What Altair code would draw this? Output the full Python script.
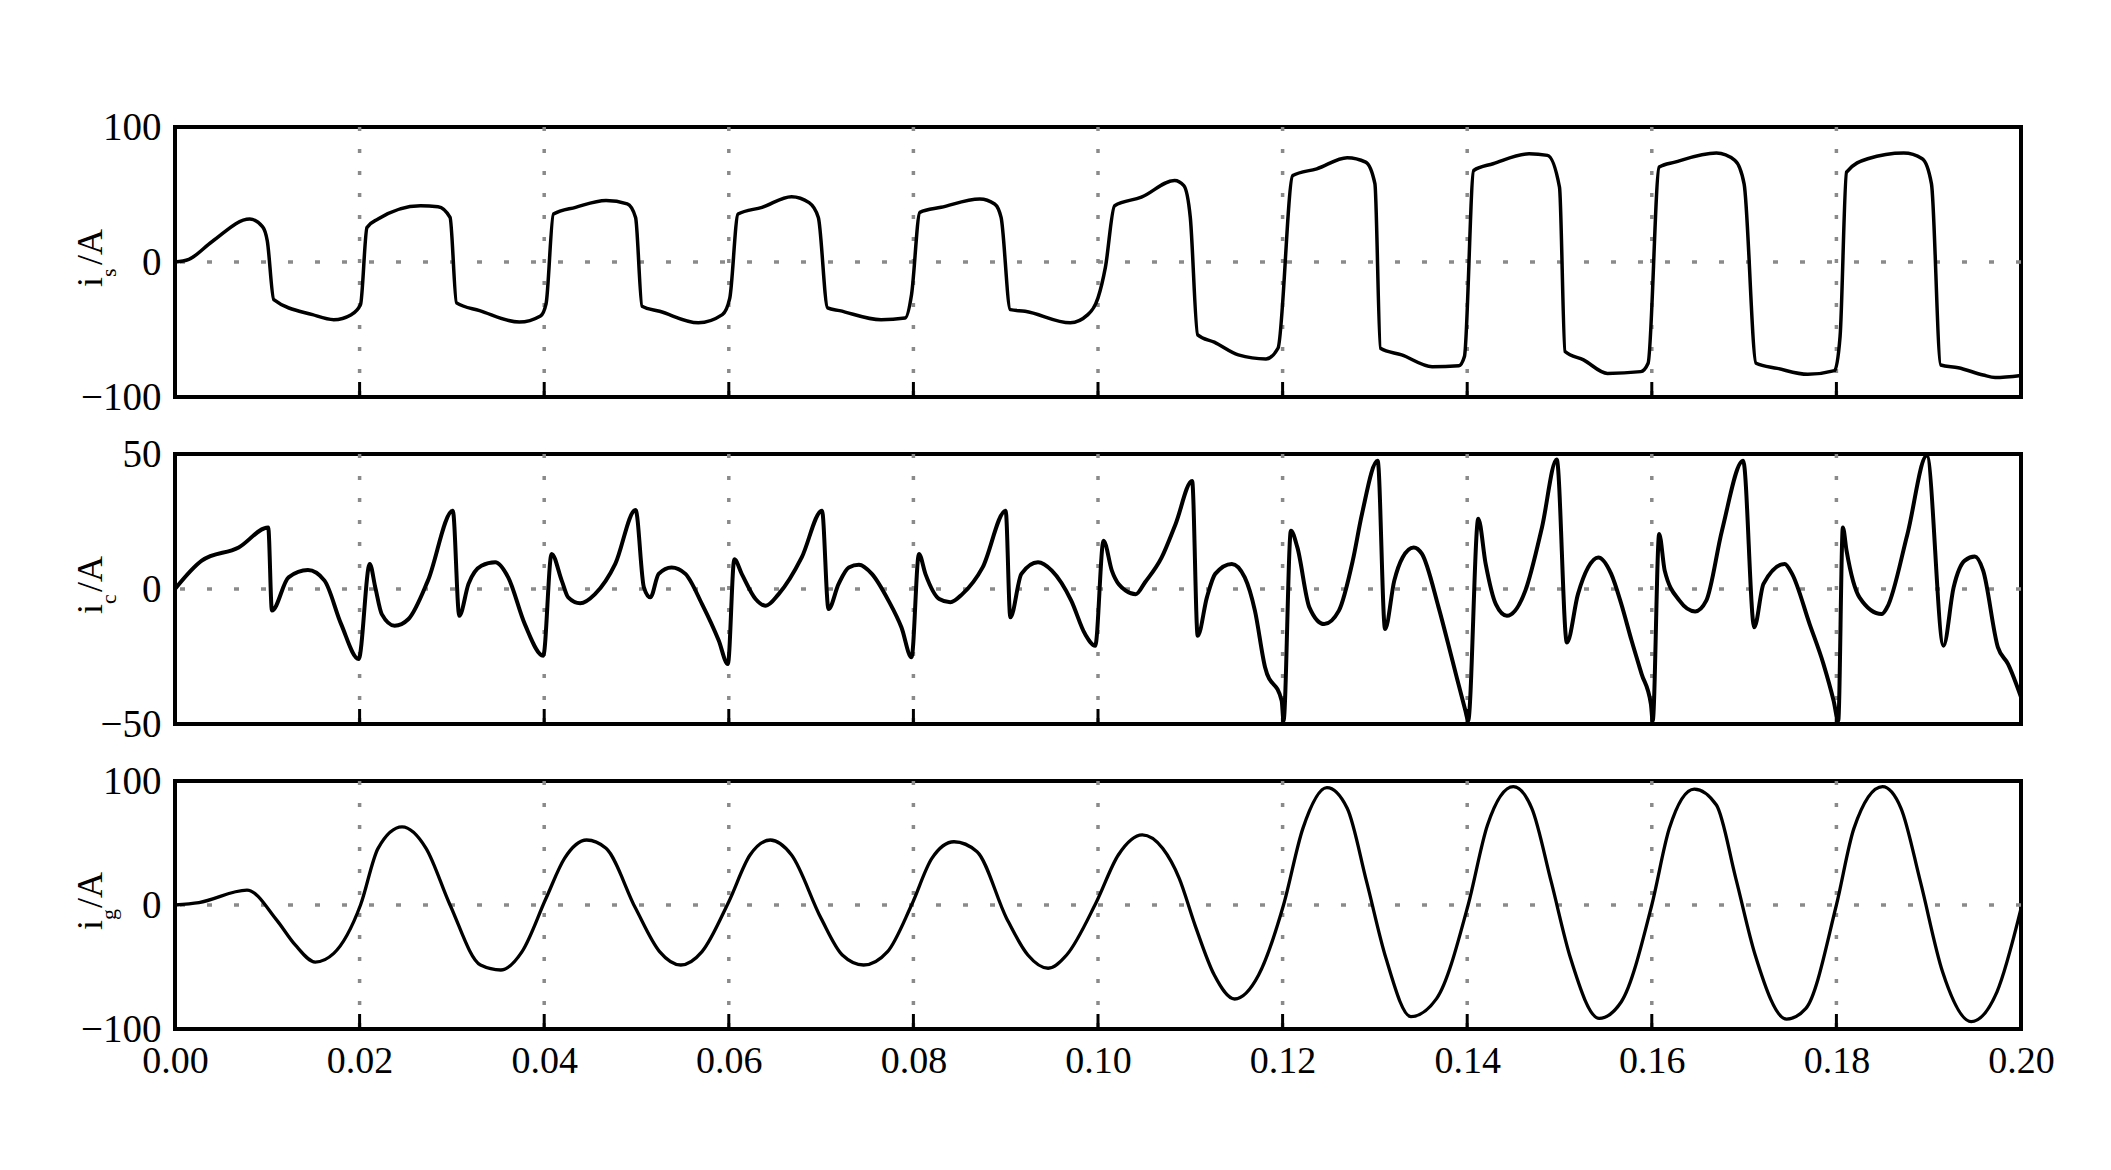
import altair as alt
import pandas as pd

# ---------------- data ----------------
t_s = [0.0000, 0.0015, 0.0040, 0.0081, 0.0095, 0.0100, 0.0107, 0.0149, 0.0172, 0.0191,
       0.0201, 0.0208, 0.0220, 0.0266, 0.0285, 0.0298, 0.0305, 0.0330, 0.0373, 0.0396,
       0.0402, 0.0410, 0.0434, 0.0467, 0.0490, 0.0499, 0.0506, 0.0525, 0.0567, 0.0593,
       0.0601, 0.0610, 0.0636, 0.0668, 0.0687, 0.0697, 0.0707, 0.0720, 0.0765, 0.0791,
       0.0798, 0.0807, 0.0830, 0.0872, 0.0888, 0.0895, 0.0905, 0.0921, 0.0970, 0.0989,
       0.1000, 0.1008, 0.1018, 0.1047, 0.1083, 0.1093, 0.1100, 0.1108, 0.1126, 0.1152,
       0.1182, 0.1195, 0.1211, 0.1237, 0.1270, 0.1290, 0.1300, 0.1306, 0.1329, 0.1362,
       0.1391, 0.1397, 0.1407, 0.1428, 0.1467, 0.1487, 0.1500, 0.1506, 0.1526, 0.1552,
       0.1588, 0.1596, 0.1608, 0.1625, 0.1670, 0.1690, 0.1700, 0.1713, 0.1736, 0.1769,
       0.1798, 0.1804, 0.1811, 0.1834, 0.1873, 0.1893, 0.1903, 0.1913, 0.1932, 0.1959,
       0.1972, 0.2000]
i_s = [0, 2, 15, 31.8, 26, 15.6, -27.8, -39, -42.7, -39,
       -31.5, 25.6, 31.8, 41.7, 41, 33, -30.3, -36, -44.5, -40,
       -31, 35.5, 40.5, 45.5, 43, 33, -32.8, -36.5, -45, -39,
       -27, 35.5, 40.5, 48.4, 44, 33, -34, -36, -42.7, -41.5,
       -24, 36.8, 40.5, 46.7, 43, 33, -35.3, -36.5, -45, -39,
       -26.6, -4, 41.7, 48, 60.4, 56.6, 33, -54, -59.4, -68.8,
       -71.8, -63.9, 64.1, 69, 77.3, 74, 58, -63.9, -68.8, -77.5,
       -76.8, -70, 67.8, 72.8, 80.2, 79, 55.4, -66.3, -72.5, -82.5,
       -81.2, -75, 70.3, 74, 80.7, 75.3, 57.9, -75, -78.8, -83.2,
       -80.5, -55, 66.6, 76.5, 80.7, 76.5, 57.9, -76.3, -78.3, -83.7,
       -85.5, -84]

t_c = [0.0000, 0.0029, 0.0069, 0.0101, 0.0105, 0.0123, 0.0144, 0.0162, 0.0180, 0.0199,
       0.0211, 0.0217, 0.0224, 0.0238, 0.0253, 0.0274, 0.0301, 0.0308, 0.0318, 0.0332,
       0.0347, 0.0361, 0.0379, 0.0399, 0.0408, 0.0419, 0.0426, 0.0439, 0.0455, 0.0477,
       0.0499, 0.0508, 0.0515, 0.0524, 0.0538, 0.0553, 0.0571, 0.0589, 0.0599, 0.0606,
       0.0614, 0.0629, 0.0640, 0.0654, 0.0679, 0.0701, 0.0708, 0.0719, 0.0730, 0.0741,
       0.0755, 0.0773, 0.0787, 0.0798, 0.0806, 0.0813, 0.0828, 0.0840, 0.0853, 0.0875,
       0.0900, 0.0905, 0.0917, 0.0935, 0.0950, 0.0971, 0.0986, 0.0997, 0.1006, 0.1015,
       0.1030, 0.1041, 0.1051, 0.1069, 0.1084, 0.1102, 0.1108, 0.1118, 0.1127, 0.1145,
       0.1159, 0.1170, 0.1181, 0.1199, 0.1201, 0.1209, 0.1216, 0.1229, 0.1245, 0.1261,
       0.1276, 0.1286, 0.1303, 0.1311, 0.1321, 0.1330, 0.1342, 0.1351, 0.1369, 0.1384,
       0.1398, 0.1401, 0.1412, 0.1420, 0.1431, 0.1443, 0.1463, 0.1481, 0.1497, 0.1508,
       0.1520, 0.1531, 0.1542, 0.1556, 0.1567, 0.1578, 0.1589, 0.1599, 0.1601, 0.1608,
       0.1614, 0.1630, 0.1647, 0.1659, 0.1676, 0.1699, 0.1711, 0.1721, 0.1744, 0.1752,
       0.1771, 0.1786, 0.1797, 0.1802, 0.1807, 0.1811, 0.1825, 0.1849, 0.1855, 0.1877,
       0.1898, 0.1916, 0.1927, 0.1939, 0.1950, 0.1959, 0.1975, 0.1986, 0.2000]
i_c = [0, 10.5, 15.4, 22.8, -8, 4.3, 7, 3.1, -13, -25.9,
       9.3, 0.6, -9.3, -13.6, -11.1, 3.1, 29, -9.9, 1.9, 8.6,
       9.9, 4.3, -13, -24.7, 13, 3.1, -3.1, -5.3, -1.9, 9.3,
       29.3, 0.6, -3.1, 5.6, 8, 5.6, -5.6, -19, -27.8, 11,
       5.6, -3.7, -6.2, -1.9, 11.7, 29, -7.4, 1.9, 8, 9,
       5.6, -4.3, -14.2, -25.3, 13, 5.6, -3.7, -4.9, -1.9, 8,
       29, -10.5, 5.6, 9.9, 6.8, -4.3, -16.7, -21, 17.9, 6.8,
       -0.6, -1.9, 2.5, 11.7, 24, 40, -17.3, -3.1, 5.6, 9.3,
       4.3, -8, -29, -41.4, -48.8, 21.6, 15.4, -6.8, -13, -8,
       10.5, 27.8, 47.5, -14.8, 3.1, 11.7, 15.4, 13, -6.8, -26.5,
       -45, -48.8, 26, 9.3, -5.6, -9.9, -0.6, 22.8, 48, -19.8,
       -1.9, 8, 11.7, 5.6, -5.6, -19, -31.5, -42.6, -48.8, 20.4,
       6.8, -4.3, -8.3, -4.3, 21.6, 47.5, -14.2, 1.9, 9.3, 5.6,
       -13, -27.8, -41.4, -48.8, 22.8, 14.2, -3.1, -9.3, -6.8, 20.4,
       49.4, -21, 0.6, 10.5, 12, 6.8, -21.6, -27.8, -40]

t_g = [0.0000, 0.0026, 0.0078, 0.0110, 0.0130, 0.0152, 0.0172, 0.0201, 0.0220, 0.0246,
       0.0272, 0.0298, 0.0331, 0.0353, 0.0376, 0.0402, 0.0422, 0.0446, 0.0467, 0.0499,
       0.0525, 0.0548, 0.0571, 0.0600, 0.0623, 0.0645, 0.0668, 0.0700, 0.0723, 0.0746,
       0.0772, 0.0798, 0.0820, 0.0844, 0.0869, 0.0901, 0.0924, 0.0946, 0.0966, 0.0998,
       0.1022, 0.1048, 0.1070, 0.1088, 0.1105, 0.1126, 0.1148, 0.1174, 0.1201, 0.1222,
       0.1248, 0.1270, 0.1291, 0.1312, 0.1339, 0.1367, 0.1401, 0.1422, 0.1450, 0.1470,
       0.1491, 0.1512, 0.1543, 0.1567, 0.1600, 0.1619, 0.1646, 0.1670, 0.1691, 0.1712,
       0.1746, 0.1767, 0.1800, 0.1819, 0.1850, 0.1870, 0.1891, 0.1915, 0.1946, 0.1974,
       0.2000]
i_g = [0, 2, 12, -12, -32, -46, -39, 0, 45.7, 63,
       45.7, 0, -48.4, -52.4, -37.6, 5.4, 37.6, 52.4, 45.7, -2.7,
       -37.6, -48.4, -37.6, 2.7, 40.3, 52.4, 40.3, -10.8, -40.3, -48.4,
       -37.6, 0, 37.6, 51, 43, -10.8, -40.3, -51, -40.3, 2,
       40.3, 56.5, 45.7, 21.5, -16, -56.5, -75.8, -56.5, 0, 61.8,
       94.6, 78, 18.8, -43, -90, -75.3, 0, 64.5, 95.4, 78,
       18.8, -43, -91.4, -78, 0, 61.8, 93.5, 80.6, 21.5, -40.3,
       -92, -83.3, 0, 61.8, 95.4, 78, 18.8, -53.8, -94, -70,
       -3]

x_ticks = [0.00, 0.02, 0.04, 0.06, 0.08, 0.10, 0.12, 0.14, 0.16, 0.18, 0.20]
grid_x = [0.02, 0.04, 0.06, 0.08, 0.10, 0.12, 0.14, 0.16, 0.18]

# ---------------- styling ----------------
FONT = "Liberation Serif"
W = 1846
GRID = "#8a8a8a"


def panel(t, v, domain, yvals, sub, height, show_x, stroke_w, interp, spacer=False):
    xscale = alt.Scale(domain=[0, 0.2], nice=False, zero=False)
    yscale = alt.Scale(domain=domain, nice=False, zero=False)
    if show_x:
        xaxis = alt.Axis(values=x_ticks, format=".2f", ticks=False, domain=False, grid=False,
                         labelFont=FONT, labelFontSize=38, labelColor="black",
                         labelPadding=13, labelFlush=False, title=None)
    else:
        xaxis = None
    yaxis = alt.Axis(values=yvals, ticks=False, domain=False, grid=False,
                     labelFont=FONT, labelFontSize=39, labelColor="black",
                     labelPadding=14, title=None)

    df = pd.DataFrame({"t": t, "v": v})
    gdf = pd.DataFrame({"gx": grid_x})
    zdf = pd.DataFrame({"gy": [0]})
    one = pd.DataFrame({"k": [0]})

    line = alt.Chart(df).mark_line(color="black", strokeWidth=stroke_w, interpolate=interp).encode(
        x=alt.X("t:Q", scale=xscale, axis=xaxis),
        y=alt.Y("v:Q", scale=yscale, axis=yaxis))
    vgrid = alt.Chart(gdf).mark_rule(color=GRID, strokeWidth=3.5, strokeDash=[4, 18]).encode(
        x=alt.X("gx:Q", scale=xscale, axis=xaxis))
    hgrid = alt.Chart(zdf).mark_rule(color=GRID, strokeWidth=3.5, strokeDash=[5, 22]).encode(
        y=alt.Y("gy:Q", scale=yscale, axis=yaxis))
    ticks = alt.Chart(gdf).mark_rule(color="black", strokeWidth=3).encode(
        x=alt.X("gx:Q", scale=xscale, axis=xaxis),
        y=alt.value(height), y2=alt.value(height - 15))

    base_y = height / 2 + 25
    t_i = alt.Chart(one).mark_text(text="i", font=FONT, fontSize=36, angle=270, align="left",
                                   baseline="alphabetic", color="black").encode(
        x=alt.value(-73), y=alt.value(base_y))
    t_sub = alt.Chart(one).mark_text(text=sub, font=FONT, fontSize=22, angle=270, align="left",
                                     baseline="alphabetic", color="black").encode(
        x=alt.value(-59), y=alt.value(base_y - 10))
    t_a = alt.Chart(one).mark_text(text="/A", font=FONT, fontSize=36, angle=270, align="left",
                                   baseline="alphabetic", color="black").encode(
        x=alt.value(-73), y=alt.value(base_y - 22))

    layers = [vgrid, hgrid, ticks, line, t_i, t_sub, t_a]
    if spacer:
        sp = alt.Chart(one).mark_rule(color="white", opacity=0, strokeWidth=1).encode(
            x=alt.value(-165), x2=alt.value(-164), y=alt.value(-117), y2=alt.value(-116))
        layers.append(sp)
    return alt.layer(*layers).properties(width=W, height=height)


p1 = panel(t_s, i_s, [-100, 100], [-100, 0, 100], "s", 270, False, 3.5, "monotone", spacer=True)
p2 = panel(t_c, i_c, [-50, 50], [-50, 0, 50], "c", 270, False, 4.0, "monotone")
p3 = panel(t_g, i_g, [-100, 100], [-100, 0, 100], "g", 248, True, 3.3, "monotone")

chart = alt.vconcat(p1, p2, p3, spacing=57, bounds="flush").properties(
    padding=0, background="white"
).configure_view(stroke="black", strokeWidth=4)

chart.save("out.html", embed_options={"renderer": "svg", "actions": False})
